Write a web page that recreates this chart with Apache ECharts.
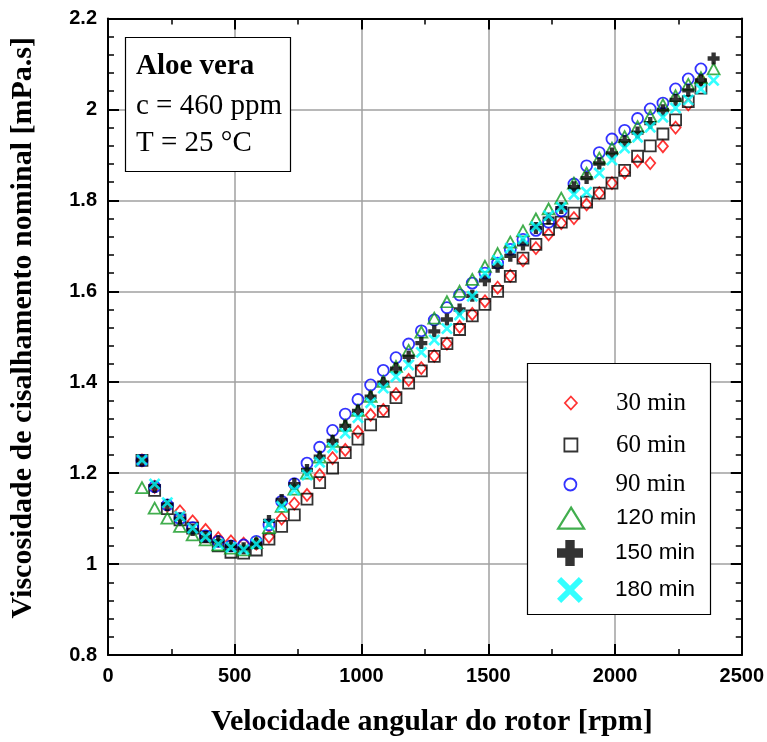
<!DOCTYPE html>
<html>
<head>
<meta charset="utf-8">
<script src="https://cdn.jsdelivr.net/npm/echarts@6/dist/echarts.min.js"></script>
<style>html,body{margin:0;padding:0;background:#fff}#c{width:767px;height:742px}</style>
</head>
<body>
<div id="c"></div>
<script>
// ---- data ----
const rpm = [134,184,234,284,334,385,435,485,535,585,635,685,735,785,835,886,936,986,1036,1086,1136,1186,1236,1287,1337,1387,1437,1487,1537,1587,1637,1688,1738,1788,1838,1888,1938,1988,2038,2089,2139,2189,2239,2289,2339,2389];
const v30  = [1.228,1.170,1.128,1.116,1.094,1.075,1.057,1.050,1.045,1.045,1.060,1.100,1.133,1.152,1.196,1.233,1.251,1.291,1.328,1.339,1.374,1.405,1.431,1.458,1.485,1.522,1.550,1.578,1.608,1.634,1.668,1.695,1.725,1.750,1.761,1.791,1.816,1.838,1.861,1.886,1.882,1.919,1.960,2.011,2.065,null];
const v60  = [1.228,1.162,1.122,1.097,1.079,1.060,1.040,1.026,1.024,1.031,1.055,1.083,1.108,1.143,1.179,1.211,1.245,1.275,1.306,1.336,1.366,1.398,1.425,1.457,1.485,1.516,1.546,1.571,1.600,1.633,1.673,1.703,1.736,1.752,1.772,1.796,1.816,1.838,1.866,1.897,1.920,1.946,1.977,2.017,2.047,null];
const v90  = [1.228,1.170,1.130,1.100,1.080,1.062,1.050,1.040,1.042,1.050,1.086,1.138,1.177,1.222,1.257,1.294,1.330,1.362,1.394,1.426,1.454,1.484,1.513,1.537,1.564,1.592,1.618,1.640,1.662,1.692,1.714,1.734,1.752,1.777,1.836,1.876,1.905,1.935,1.954,1.980,2.001,2.014,2.045,2.067,2.089,null];
const v120 = [1.168,1.123,1.101,1.083,1.064,1.053,1.042,1.035,1.031,1.047,1.080,1.127,1.165,1.200,1.235,1.270,1.305,1.338,1.369,1.402,1.435,1.470,1.510,1.541,1.577,1.600,1.626,1.655,1.683,1.708,1.733,1.759,1.781,1.805,1.838,1.860,1.893,1.915,1.940,1.962,1.985,2.010,2.030,2.055,2.070,2.089];
const v150 = [1.228,1.170,1.130,1.100,1.075,1.060,1.050,1.040,1.035,1.045,1.095,1.141,1.176,1.207,1.236,1.271,1.304,1.337,1.368,1.399,1.430,1.456,1.486,1.512,1.538,1.560,1.590,1.624,1.654,1.678,1.703,1.739,1.760,1.783,1.829,1.849,1.881,1.903,1.930,1.949,1.970,1.998,2.021,2.042,2.064,2.112];
const v180 = [1.229,1.176,1.135,1.105,1.079,1.060,1.044,1.037,1.032,1.044,1.087,1.127,1.163,1.196,1.224,1.256,1.288,1.322,1.355,1.387,1.412,1.438,1.466,1.493,1.518,1.548,1.589,1.640,1.668,1.695,1.715,1.742,1.766,1.785,1.813,1.818,1.860,1.889,1.915,1.939,1.961,1.983,2.003,2.021,2.045,2.064];
const seriesNames = ['30 min','60 min','90 min','120 min','150 min','180 min'];
const xTicks = [0,500,1000,1500,2000,2500];
const yTicks = [0.8,1,1.2,1.4,1.6,1.8,2,2.2];
const infoLines = ['Aloe vera','c = 460 ppm','T = 25 °C'];
const xTitle = 'Velocidade angular do rotor [rpm]';
const yTitle = 'Viscosidade de cisalhamento nominal [mPa.s]';

// ---- chart ----
const pts = v => rpm.map((x,i)=>[x,v[i]]).filter(p=>p[1]!==null);
const PLUS = 'path://M3.2,0H6.8V3.2H10V6.8H6.8V10H3.2V6.8H0V3.2H3.2Z';
const CROSS = 'path://M0,1.6L1.6,0L5,3.4L8.4,0L10,1.6L6.6,5L10,8.4L8.4,10L5,6.6L1.6,10L0,8.4L3.4,5Z';
const serif = 'Liberation Serif', sans = 'Liberation Sans';

const styles = [
  {symbol:'diamond', size:[10,12], item:{color:'transparent',borderColor:'#ff0000',borderWidth:1.8}, lw:12, lh:13, font:serif, fs:25},
  {symbol:'rect', size:11, item:{color:'transparent',borderColor:'#000000',borderWidth:1.8}, lw:13, lh:13, font:serif, fs:25},
  {symbol:'circle', size:11, item:{color:'transparent',borderColor:'#0000ff',borderWidth:1.8}, lw:13, lh:12, font:serif, fs:25},
  {symbol:'triangle', size:[12,11], item:{color:'transparent',borderColor:'#119a22',borderWidth:1.8}, lw:26, lh:21, font:sans, fs:22.5},
  {symbol:PLUS, size:12, item:{color:'#000000'}, lw:26, lh:26, font:sans, fs:22.5},
  {symbol:CROSS, size:12, item:{color:'#00ffff'}, lw:26, lh:26, font:sans, fs:22.5}
];
const vals = [v30,v60,v90,v120,v150,v180];
const rowCenters = [397,439,478,517,553,590];
const iconCX = 570, textX = 615;

const series = seriesNames.map((n,i)=>({
  name:n, type:'scatter', data:pts(vals[i]), symbol:styles[i].symbol, symbolSize:styles[i].size,
  itemStyle:styles[i].item, emphasis:{disabled:true}, z:2+i
}));

const legends = seriesNames.map((n,i)=>{
  const s = styles[i];
  return {
    data:[n], left: iconCX - s.lw/2, top: rowCenters[i] - s.lh/2, itemWidth:s.lw, itemHeight:s.lh,
    padding:0, selectedMode:false, z:20,
    itemStyle: (i===3?{borderWidth:2.2}:(i<3?{borderWidth:1.8}:{})),
    textStyle:{fontFamily:s.font, fontSize:s.fs, color:'#000', padding:[0,0,0, textX - (iconCX + s.lw/2 + 5)]}
  };
});

const axisCommon = {
  axisLine:{show:true, onZero:false, lineStyle:{color:'#000', width:2}},
  axisTick:{show:true, inside:true, length:11, lineStyle:{color:'#000', width:2}},
  minorTick:{show:true, length:6, lineStyle:{color:'#000', width:1.5}}
};
const chart = echarts.init(document.getElementById('c'), null, {renderer:'canvas'});
chart.setOption({
  animation:false,
  backgroundColor:'#fff',
  grid:{left:107.5, right:24, top:18.5, bottom:86},
  xAxis:[
    Object.assign({type:'value', position:'bottom', min:xTicks[0], max:xTicks[xTicks.length-1], interval:500,
      splitLine:{show:true, lineStyle:{color:'#a0a0a0', width:1.5}},
      axisLabel:{fontFamily:sans, fontWeight:'bold', fontSize:20, color:'#000', margin:11, formatter:v=>String(v)},
      name:xTitle, nameLocation:'middle', nameGap:52,
      nameTextStyle:{fontFamily:serif, fontWeight:'bold', fontSize:30, color:'#000', padding:[0,0,0,14]}}, axisCommon,
      {minorTick:Object.assign({}, axisCommon.minorTick, {splitNumber:2})}),
    Object.assign({type:'value', position:'top', min:xTicks[0], max:xTicks[xTicks.length-1], interval:500,
      splitLine:{show:false}, axisLabel:{show:false}}, axisCommon,
      {minorTick:Object.assign({}, axisCommon.minorTick, {splitNumber:2})})
  ],
  yAxis:[
    Object.assign({type:'value', position:'left', min:yTicks[0], max:yTicks[yTicks.length-1], interval:0.2,
      splitLine:{show:true, lineStyle:{color:'#a0a0a0', width:1.5}},
      axisLabel:{fontFamily:sans, fontWeight:'bold', fontSize:20, color:'#000', margin:11,
        formatter:v=>String(Math.round(v*10)/10)},
      name:yTitle, nameLocation:'middle', nameGap:70, nameRotate:90,
      nameTextStyle:{fontFamily:serif, fontWeight:'bold', fontSize:30, color:'#000', padding:[0,0,0,18]}}, axisCommon,
      {minorTick:Object.assign({}, axisCommon.minorTick, {splitNumber:5})}),
    Object.assign({type:'value', position:'right', min:yTicks[0], max:yTicks[yTicks.length-1], interval:0.2,
      splitLine:{show:false}, axisLabel:{show:false}}, axisCommon,
      {minorTick:Object.assign({}, axisCommon.minorTick, {splitNumber:5})})
  ],
  legend:legends,
  graphic:[
    {type:'rect', z:10, shape:{x:125.5, y:37.5, width:165, height:134}, style:{fill:'#fff', stroke:'#000', lineWidth:1.2}},
    {type:'text', z:11, x:136, y:67, style:{text:infoLines[0], fontFamily:serif, fontWeight:'bold', fontSize:29, fill:'#000', verticalAlign:'middle'}},
    {type:'text', z:11, x:136, y:106, style:{text:infoLines[1], fontFamily:serif, fontSize:29, fill:'#000', verticalAlign:'middle'}},
    {type:'text', z:11, x:136, y:143, style:{text:infoLines[2], fontFamily:serif, fontSize:29, fill:'#000', verticalAlign:'middle'}},
    {type:'rect', z:10, shape:{x:527.5, y:363.5, width:183, height:251}, style:{fill:'#fff', stroke:'#000', lineWidth:1.2}}
  ],
  series:series
});
</script>
</body>
</html>
